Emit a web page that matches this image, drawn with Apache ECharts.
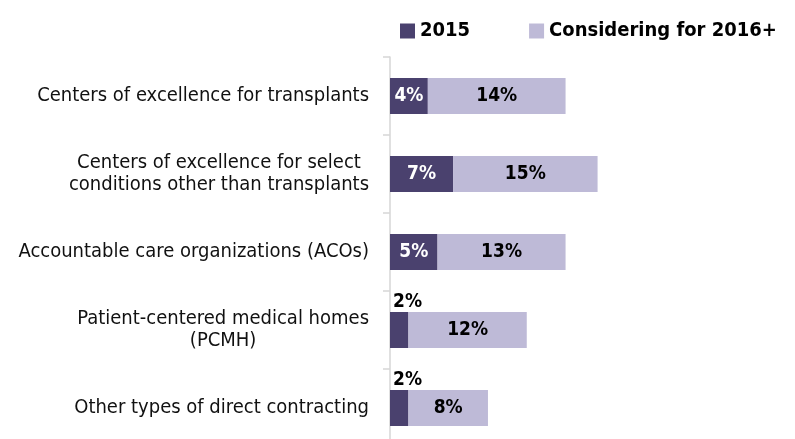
<!DOCTYPE html>
<html>
<head>
<meta charset="utf-8">
<script src="https://cdn.jsdelivr.net/npm/echarts@6/dist/echarts.min.js"></script>
<style>
  html, body { margin: 0; padding: 0; background: #fff; }
  #chart { width: 795px; height: 439px; }
</style>
</head>
<body>
<div id="chart"></div>
<script>
// categories, top to bottom
const categories = [
  'Centers of excellence for transplants',
  'Centers of excellence for select\nconditions other than transplants',
  'Accountable care organizations (ACOs)',
  'Patient-centered medical homes\n(PCMH)',
  'Other types of direct contracting'
];
const seriesNames = ['2015', 'Considering for 2016+'];
// values in %
const values2015 = [3.9, 6.5, 4.9, 1.9, 1.9];
const valuesConsidering = [14.2, 14.9, 13.2, 12.2, 8.2];

const FONT = '"DejaVu Sans Condensed", "Liberation Sans Narrow", sans-serif';
const DARK = '#4a416e';
const LIGHT = '#bebad7';
const LABEL_SIZE = 20;

// measure the widest line so two-line labels can be centred but still end at the axis
const ctx = document.createElement('canvas').getContext('2d');
ctx.font = LABEL_SIZE + 'px ' + FONT;
function widest(text) {
  return Math.max.apply(null, text.split('\n').map(l => ctx.measureText(l).width));
}

const yData = categories.map(c => ({
  value: c,
  textStyle: {
    align: 'center',
    // two-line labels sit a little low in the original
    padding: [c.indexOf('\n') >= 0 ? 8 : 0, widest(c), 0, 0]
  }
}));

const pct = p => Math.round(p.value) + '%';

const data2015 = values2015.map(v => {
  if (v >= 3) return v;
  // too thin for the label, put it above the bar
  return {
    value: v,
    label: { position: [3, 0], align: 'left', verticalAlign: 'bottom', color: '#000' }
  };
});

const chart = echarts.init(document.getElementById('chart'));
chart.setOption({
  animation: false,
  textStyle: { fontFamily: FONT },
  legend: {
    left: 400,
    top: 21,
    width: 395,
    padding: 0,
    itemWidth: 15,
    itemHeight: 15,
    itemGap: 59,
    icon: 'rect',
    textStyle: { fontSize: 20, fontWeight: 'bold', color: '#000', fontFamily: FONT },
    data: seriesNames
  },
  grid: { left: 390, top: 57, width: 388, height: 390, outerBoundsMode: 'none', containLabel: false },
  xAxis: {
    type: 'value',
    min: 0,
    max: 40,
    show: false
  },
  yAxis: {
    type: 'category',
    inverse: true,
    data: yData,
    axisLine: { show: true, lineStyle: { color: '#d6d6d6', width: 1.5 } },
    axisTick: { show: true, alignWithLabel: false, length: 7, lineStyle: { color: '#d6d6d6', width: 1.5 } },
    axisLabel: {
      margin: 21,
      fontSize: LABEL_SIZE,
      lineHeight: 22,
      color: '#111',
      fontFamily: FONT
    }
  },
  series: [
    {
      name: seriesNames[0],
      type: 'bar',
      stack: 'total',
      barWidth: 36,
      itemStyle: { color: DARK },
      label: {
        show: true,
        position: 'inside',
        color: '#fff',
        fontSize: 19,
        fontWeight: 'bold',
        fontFamily: FONT,
        formatter: pct
      },
      data: data2015
    },
    {
      name: seriesNames[1],
      type: 'bar',
      stack: 'total',
      barWidth: 36,
      itemStyle: { color: LIGHT },
      label: {
        show: true,
        position: 'inside',
        color: '#000',
        fontSize: 19,
        fontWeight: 'bold',
        fontFamily: FONT,
        formatter: pct
      },
      data: valuesConsidering
    }
  ]
});
</script>
</body>
</html>
